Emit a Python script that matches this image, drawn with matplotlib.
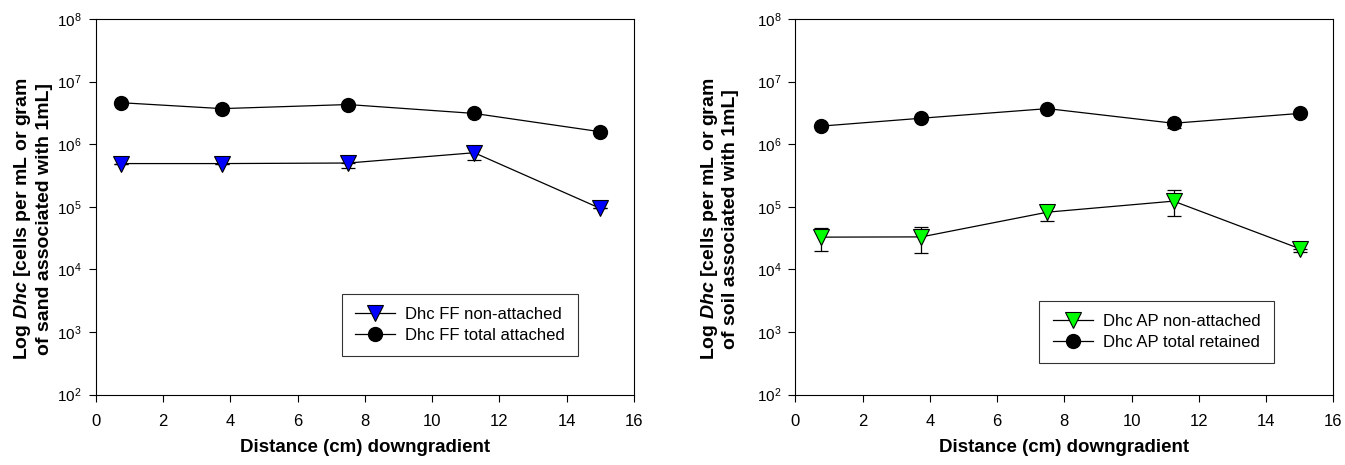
import matplotlib
matplotlib.use("Agg")
import matplotlib.pyplot as plt
import numpy as np

plt.rcParams['font.family'] = ['Liberation Sans', 'DejaVu Sans']
plt.rcParams['mathtext.fontset'] = 'custom'
plt.rcParams['mathtext.rm'] = 'Liberation Sans'
plt.rcParams['mathtext.it'] = 'Liberation Sans:italic:bold'
plt.rcParams['mathtext.bf'] = 'Liberation Sans:bold'

# distances (cm) downgradient
dist = [0.75, 3.75, 7.5, 11.25, 15]

# FF (sand) column
ff_non = [4.9e5, 4.9e5, 5.0e5, 7.3e5, 9.4e4]
ff_non_lo = [0, 0, 0.9e5, 1.7e5, 0]
ff_non_hi = [0, 0, 0, 1.9e5, 0]
ff_tot = [4.6e6, 3.7e6, 4.3e6, 3.1e6, 1.58e6]

# AP (soil) column
ap_non = [3.27e4, 3.3e4, 8.2e4, 1.23e5, 2.14e4]
ap_non_lo = [1.27e4, 1.5e4, 2.2e4, 5.3e4, 2.8e3]
ap_non_hi = [1.33e4, 1.5e4, 1.8e4, 6.1e4, 0]
ap_tot = [1.94e6, 2.6e6, 3.7e6, 2.16e6, 3.1e6]
ap_tot_lo = [0, 0, 0, 3.5e5, 0]
ap_tot_hi = [0, 0, 0, 0, 0]

fig = plt.figure(figsize=(13.45, 4.65), dpi=100)
ax1 = fig.add_axes([0.0712, 0.1516, 0.4002, 0.8075])
ax2 = fig.add_axes([0.5913, 0.1516, 0.4000, 0.8075])

panels = [
    (ax1, ff_non, ff_non_lo, ff_non_hi, ff_tot, None, '#0000ff',
     'Dhc FF non-attached', 'Dhc FF total attached', 'sand', (0.457, 0.268), -0.080),
    (ax2, ap_non, ap_non_lo, ap_non_hi, ap_tot, (ap_tot_lo, ap_tot_hi), '#00ff00',
     'Dhc AP non-attached', 'Dhc AP total retained', 'soil', (0.4535, 0.250), -0.104),
]

for ax, non, lo, hi, tot, tot_err, col, lab1, lab2, medium, legpos, labx in panels:
    ax.errorbar(dist, non, yerr=[lo, hi], fmt='none', ecolor='black',
                elinewidth=0.9, capsize=5, capthick=0.9, zorder=2)
    if tot_err is not None:
        ax.errorbar(dist, tot, yerr=tot_err, fmt='none', ecolor='black',
                    elinewidth=0.9, capsize=5, capthick=0.9, zorder=2)
    ax.plot(dist, non, color='black', lw=0.9, marker='v', ms=11,
            mfc=col, mec='black', mew=0.8, label=lab1, zorder=3)
    ax.plot(dist, tot, color='black', lw=0.9, marker='o', ms=10,
            mfc='black', mec='black', label=lab2, zorder=3)

    ax.set_yscale('log')
    ax.set_ylim(1e2, 1e8)
    ax.set_xlim(0, 16)
    ax.set_xticks(np.arange(0, 17, 2))
    ax.set_yticks([1e2, 1e3, 1e4, 1e5, 1e6, 1e7, 1e8])
    ax.yaxis.set_minor_locator(matplotlib.ticker.NullLocator())
    ax.tick_params(axis='both', direction='out', length=5, width=0.8,
                   top=False, right=False)
    ax.tick_params(axis='x', labelsize=12, pad=9)
    ax.tick_params(axis='y', labelsize=11, pad=5)
    for s in ax.spines.values():
        s.set_linewidth(0.8)

    ax.set_xlabel('Distance (cm) downgradient', fontsize=13.5, fontweight='bold')
    ax.xaxis.set_label_coords(0.5, -0.1185)
    ax.set_ylabel('Log $Dhc$ [cells per mL or gram\nof %s associated with 1mL]' % medium,
                  fontsize=14, fontweight='bold', linespacing=1.2)
    ax.yaxis.set_label_coords(labx, 0.467)

    leg = ax.legend(loc='upper left', bbox_to_anchor=legpos, borderaxespad=0,
                    fontsize=12, frameon=True, fancybox=False, edgecolor='black',
                    borderpad=0.8, handlelength=2.4, handletextpad=0.6,
                    labelspacing=0.35)
    leg.get_frame().set_linewidth(0.8)

fig.savefig('out.png', dpi=100)
